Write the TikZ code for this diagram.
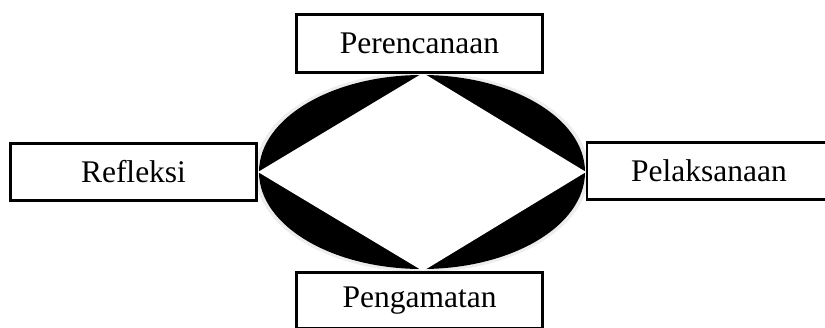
\documentclass[tikz,border=0pt]{standalone}
\usepackage{fontspec}
\setmainfont{Liberation Serif}
\begin{document}
\begin{tikzpicture}[x=1pt,y=-1pt,
  stage/.style={draw=black, line width=2.1pt, fill=white, inner sep=0pt,
    font=\fontsize{31.5}{36}\selectfont},
  glow/.style={fill=black!7, draw=none},
  disc/.style={fill=black, draw=none},
  kite/.style={fill=white, draw=none}]
  \useasboundingbox (0,0) rectangle (825,327);
  \clip (0,0) rectangle (825,327);

  % ring: soft grey halo, black disc, white rhombus on top
  \fill[glow] (422,172) ellipse [x radius=167, y radius=100];
  \fill[disc] (422,172) ellipse [x radius=163, y radius=97];
  \coordinate (top) at (423,73);
  \coordinate (right) at (586,172);
  \coordinate (bottom) at (423,271);
  \coordinate (left) at (258,172);
  \fill[kite] (top) -- (right) -- (bottom) -- (left) -- cycle;

  % the four stages of the cycle
  \node[stage, minimum width=246pt, minimum height=58pt] (plan) at (419.5,43.5) {Perencanaan};
  \node[stage, minimum width=246pt, minimum height=57pt] (refl) at (133.5,172) {Refleksi};
  \node[stage, minimum width=244pt, minimum height=57pt] (act) at (709,171) {Pelaksanaan};
  \node[stage, minimum width=246pt, minimum height=56pt] (obs) at (419.5,300.5) {Pengamatan};
\end{tikzpicture}
\end{document}
